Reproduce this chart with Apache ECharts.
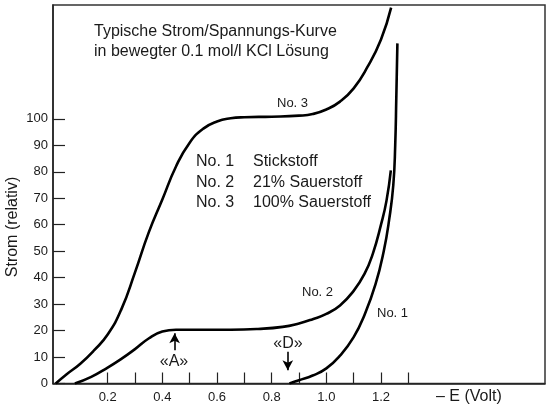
<!DOCTYPE html>
<html>
<head>
<meta charset="utf-8">
<script src="https://cdn.jsdelivr.net/npm/echarts@6/dist/echarts.min.js"></script>
<style>
  html, body { margin: 0; padding: 0; background: #fff; }
  #chart { width: 548px; height: 410px; }
</style>
</head>
<body>
<div id="chart"></div>
<script>
// Werte (x = -E in Volt, y = Strom relativ)
var no3 = [[0.01,0],[0.05,3.5],[0.1,7.5],[0.15,12.5],[0.2,18.5],[0.25,28],[0.3,42],[0.35,57],[0.4,69.5],[0.45,82],[0.5,91],[0.55,96.3],[0.6,99],[0.65,100.2],[0.7,100.6],[0.8,100.8],[0.9,101.2],[0.95,101.8],[1.0,103.5],[1.05,106.5],[1.1,111.5],[1.15,119.5],[1.2,130],[1.237,142]];
var no2 = [[0.08,0],[0.14,2.5],[0.2,6],[0.25,9.3],[0.3,13],[0.35,17],[0.4,19.6],[0.45,20.3],[0.55,20.3],[0.65,20.3],[0.75,20.6],[0.84,21.4],[0.9,22.7],[0.95,24.3],[1.0,26.3],[1.05,29.5],[1.1,35],[1.14,41.5],[1.17,49],[1.2,60],[1.22,69],[1.236,80.5]];
var no1 = [[0.865,0],[0.9,1.2],[0.95,3],[1.0,5.7],[1.05,10.5],[1.1,17.5],[1.14,26],[1.18,37.5],[1.21,50],[1.23,62],[1.245,75],[1.252,90],[1.256,108],[1.26,128.5]];
var xTicks = [0.2,0.3,0.4,0.5,0.6,0.7,0.8,0.9,1.0,1.1,1.2,1.3];
var xLabels = [0.2,0.4,0.6,0.8,1.0,1.2];
var yTicks = [0,10,20,30,40,50,60,70,80,90,100];
var arrowA = [[0.445,12.6],[0.445,19]];
var arrowD = [[0.859,12],[0.859,5]];

var FONT = 'Liberation Sans';
var ink = '#1a1a1a';

var chart = echarts.init(document.getElementById('chart'));

function curve(name, data) {
  return {
    name: name, type: 'line', data: data,
    smooth: 0.5,
    showSymbol: false, symbol: 'none',
    lineStyle: { color: '#000', width: 2.6 },
    silent: true, z: 3
  };
}

function arrow(coords) {
  return {
    silent: true, symbol: ['none', 'arrow'], symbolSize: [8, 10],
    lineStyle: { color: '#000', width: 1.6, type: 'solid' },
    label: { show: false },
    data: [[{ coord: coords[0] }, { coord: coords[1] }]]
  };
}

var s3 = curve('No. 3', no3);
var s2 = curve('No. 2', no2);
s2.markLine = arrow(arrowA);
var s1 = curve('No. 1', no1);
s1.markLine = arrow(arrowD);

function txt(x, y, text, size, extra) {
  var o = {
    type: 'text', x: x, y: y, silent: true,
    style: { text: text, fill: ink, font: size + 'px "' + FONT + '"', textVerticalAlign: 'middle' }
  };
  if (extra) Object.assign(o.style, extra);
  return o;
}

chart.setOption({
  animation: false,
  grid: { left: 53, top: 5, right: 3, bottom: 26.5, show: true, borderColor: '#333', borderWidth: 1.5 },
  xAxis: {
    type: 'value', min: 0, max: 1.8,
    axisLine: { lineStyle: { color: '#222', width: 1.5 } },
    axisTick: { inside: true, length: 11, customValues: xTicks, lineStyle: { color: '#222', width: 1.2 } },
    axisLabel: { customValues: xLabels, margin: 7, color: ink, fontSize: 13, fontFamily: FONT,
      formatter: function (v) { return v.toFixed(1); } },
    splitLine: { show: false }
  },
  yAxis: {
    type: 'value', min: 0, max: 143,
    axisLine: { show: true, lineStyle: { color: '#222', width: 1.5 } },
    axisTick: { show: true, inside: true, length: 12, customValues: yTicks, lineStyle: { color: '#222', width: 1.2 } },
    axisLabel: { customValues: yTicks, margin: 5, color: ink, fontSize: 13, fontFamily: FONT },
    splitLine: { show: false }
  },
  series: [s3, s2, s1],
  graphic: [
    txt(94, 32, 'Typische Strom/Spannungs-Kurve', 16),
    txt(94, 52, 'in bewegter 0.1 mol/l KCl Lösung', 16),
    txt(196, 162, 'No. 1', 16),
    txt(253, 162, 'Stickstoff', 16),
    txt(196, 183, 'No. 2', 16),
    txt(253, 183, '21% Sauerstoff', 16),
    txt(196, 203, 'No. 3', 16),
    txt(253, 203, '100% Sauerstoff', 16),
    txt(277, 103, 'No. 3', 13),
    txt(302, 292, 'No. 2', 13),
    txt(377, 313, 'No. 1', 13),
    txt(174, 362, '«A»', 16, { textAlign: 'center' }),
    txt(288, 344, '«D»', 16, { textAlign: 'center' }),
    txt(436, 397, '– E (Volt)', 16),
    { type: 'text', x: 13, y: 227, rotation: Math.PI / 2, silent: true,
      style: { text: 'Strom (relativ)', fill: ink, font: '16px "' + FONT + '"',
        textAlign: 'center', textVerticalAlign: 'middle' } }
  ]
});
</script>
</body>
</html>
